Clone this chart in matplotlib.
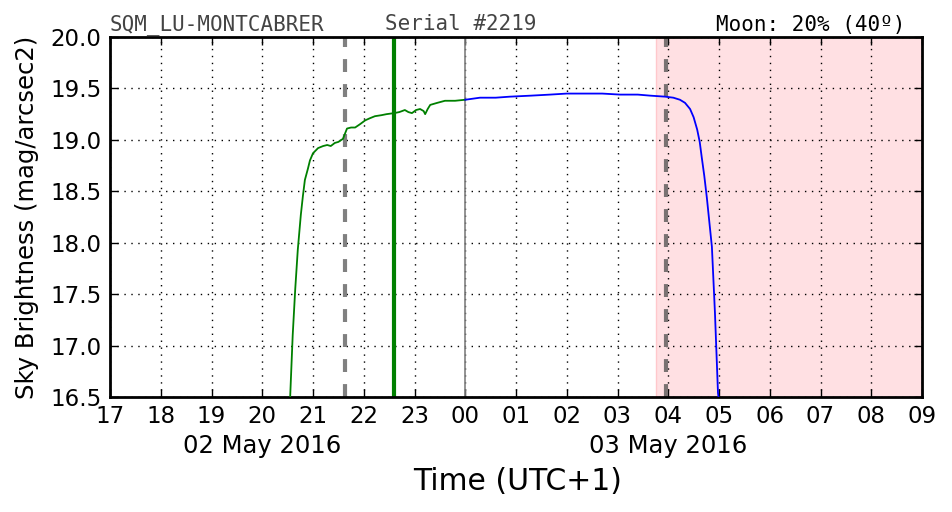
import matplotlib
matplotlib.use('Agg')
import matplotlib.pyplot as plt
import numpy as np

# hours since 00:00 of 02 May 2016 (24 = midnight)
green_t = [20.55, 20.60, 20.65, 20.70, 20.76, 20.80, 20.84, 20.90, 20.94, 21.00, 21.10, 21.20,
           21.28, 21.35, 21.43, 21.50, 21.59, 21.63, 21.67, 21.75, 21.83, 21.92, 22.03, 22.12,
           22.22, 22.35, 22.45, 22.60, 22.70, 22.81, 22.88, 22.95, 23.03, 23.11, 23.18, 23.21,
           23.26, 23.31, 23.45, 23.60, 23.80, 24.00]
green_m = [16.50, 17.10, 17.55, 17.93, 18.27, 18.45, 18.61, 18.72, 18.80, 18.87, 18.92, 18.94,
           18.95, 18.94, 18.97, 18.98, 19.01, 19.06, 19.11, 19.12, 19.12, 19.15, 19.19, 19.21,
           19.23, 19.24, 19.25, 19.26, 19.27, 19.29, 19.27, 19.26, 19.29, 19.30, 19.28, 19.25,
           19.30, 19.34, 19.36, 19.38, 19.38, 19.39]
blue_t = [24.00, 24.29, 24.60, 24.88, 25.30, 25.67, 26.00, 26.26, 26.70, 27.05, 27.40, 27.64,
          27.94, 28.10, 28.23, 28.33, 28.43, 28.50, 28.57, 28.62, 28.66, 28.71, 28.76, 28.86,
          28.92, 28.98, 28.99]
blue_m = [19.39, 19.41, 19.41, 19.42, 19.43, 19.44, 19.45, 19.45, 19.45, 19.44, 19.44, 19.43,
          19.42, 19.41, 19.39, 19.36, 19.30, 19.22, 19.10, 18.98, 18.83, 18.65, 18.44, 17.96,
          17.32, 16.54, 16.50]

tick_hours = list(range(17, 34))
tick_labels = ['%02d' % (h % 24) for h in tick_hours]
dates = ['02 May 2016', '03 May 2016']
date_pos = [20, 28]

sunset_dash = 21.63
moonrise = 22.60
astro_dawn = 27.96
shade_start = 27.76

fig = plt.figure(figsize=(9.52, 5.12), dpi=100)
ax = fig.add_axes([110/952, 1-397/512, 812/952, 360/512])

ax.axvspan(shade_start, 33, color='#ffe0e3', lw=0, zorder=0)
ax.axvline(shade_start, color='#ffc8cc', lw=1, zorder=0.5)
ax.plot(green_t, green_m, color='green', lw=1.3, zorder=3)
ax.plot(blue_t, blue_m, color='blue', lw=1.3, zorder=3)
ax.axvline(24, color='gray', lw=1.2, zorder=2)
ax.axvline(sunset_dash, color='gray', lw=3, ls=(0, (3.1, 2.9)), zorder=2)
ax.axvline(astro_dawn, color='#7a7272', lw=3, ls=(0, (3.1, 2.9)), zorder=2)
ax.axvline(moonrise, color='green', lw=3, zorder=2)

ax.set_xlim(17, 33)
ax.set_ylim(16.5, 20.0)
ax.set_xticks(tick_hours)
ax.set_xticklabels(tick_labels)
ax.set_yticks(np.arange(16.5, 20.01, 0.5))
ax.set_yticklabels(['%.1f' % v for v in np.arange(16.5, 20.01, 0.5)])
ax.tick_params(direction='in', length=6, width=1, labelsize=16.5, top=True, right=True, pad=6)
ax.grid(True, color='black', ls=(0, (1, 4)), lw=1)
for s in ax.spines.values():
    s.set_linewidth(2)

for d, p in zip(dates, date_pos):
    ax.text(p, -0.136, d, transform=ax.get_xaxis_transform(), ha='center', va='center',
            fontsize=17.5)

fig.text(27/952, 1-217/512, 'Sky Brightness (mag/arcsec2)', rotation=90, ha='center',
         va='center', fontsize=17.5)
fig.text(518/952, 1-481/512, 'Time (UTC+1)', ha='center', va='center', fontsize=21.5)

# header texts
fig.text(110/952, 1-30.5/512, 'SQM_LU-MONTCABRER', family='DejaVu Sans Mono', fontsize=15,
         color='#444444', va='baseline', ha='left')
fig.text(385/952, 1-30.5/512, 'Serial #2219', family='DejaVu Sans Mono', fontsize=15,
         color='#444444', va='baseline', ha='left')
fig.text(905/952, 1-30.5/512, 'Moon: 20% (40º)', family='DejaVu Sans Mono', fontsize=15,
         color='black', va='baseline', ha='right')

fig.savefig('out.png', dpi=100)
